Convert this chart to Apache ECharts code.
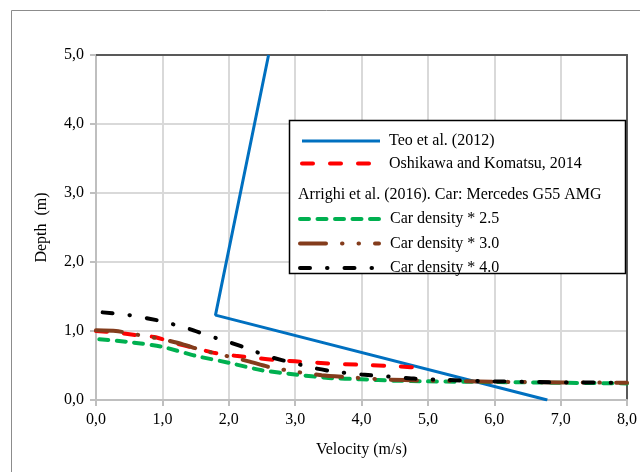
<!DOCTYPE html>
<html>
<head>
<meta charset="utf-8">
<script src="https://cdn.jsdelivr.net/npm/echarts@6/dist/echarts.min.js"></script>
<style>html,body{margin:0;padding:0;background:#fff;}#c{width:640px;height:472px;}</style>
</head>
<body>
<div id="c"></div>
<script>
// Data
var teoX = [2.6, 1.8, 6.8];
var teoY = [5.0, 1.23, 0.0];
var oshX = [0, 0.3, 0.6, 0.9, 1.2, 1.5, 1.8, 2.1, 2.4, 2.7, 3.0, 3.5, 4.0, 4.5, 5.0];
var oshY = [1.0, 0.98, 0.94, 0.91, 0.82, 0.75, 0.68, 0.64, 0.61, 0.58, 0.56, 0.53, 0.51, 0.49, 0.46];
var d25X = [0.05, 0.5, 1.0, 1.5, 2.0, 2.5, 3.0, 3.5, 4.0, 4.5, 5.0, 6.0, 7.0, 8.0];
var d25Y = [0.88, 0.84, 0.77, 0.64, 0.54, 0.43, 0.37, 0.32, 0.30, 0.28, 0.27, 0.26, 0.25, 0.24];
var d30X = [0, 0.3, 0.6, 1.0, 1.3, 1.6, 2.0, 2.3, 2.6, 3.0, 3.4, 3.8, 4.3, 5.0, 6.0, 7.0, 8.0];
var d30Y = [1.01, 1.0, 0.95, 0.88, 0.81, 0.72, 0.63, 0.56, 0.48, 0.41, 0.36, 0.33, 0.30, 0.28, 0.265, 0.255, 0.25];
var d40X = [0.1, 0.5, 1.0, 1.4, 1.8, 2.0, 2.3, 2.6, 3.0, 3.3, 3.6, 4.0, 4.4, 4.8, 5.3, 6.0, 7.0, 8.0];
var d40Y = [1.27, 1.23, 1.14, 1.03, 0.90, 0.84, 0.74, 0.63, 0.53, 0.46, 0.41, 0.37, 0.34, 0.31, 0.29, 0.27, 0.255, 0.25];
var seriesNames = ['Teo et al. (2012)', 'Oshikawa and Komatsu, 2014', 'Car density * 2.5', 'Car density * 3.0', 'Car density * 4.0'];
var legendHeader = 'Arrighi et al. (2016). Car: Mercedes G55 AMG';
var xTitle = 'Velocity (m/s)';
var yTitle = 'Depth  (m)';

function pairs(xs, ys) { return xs.map(function (x, i) { return [x, ys[i]]; }); }
function fmt(v) { return v.toFixed(1).replace('.', ','); }

var FONT = 'Liberation Serif, Times New Roman, serif';
var chart = echarts.init(document.getElementById('c'));
var txt = { fontFamily: FONT, fontSize: 16, color: '#000' };
var hidden = { show: false };

chart.setOption({
  animation: false,
  backgroundColor: '#fff',
  grid: { left: 96, top: 55, right: 13, bottom: 72 },
  xAxis: [{
    type: 'value', min: 0, max: 8, interval: 1,
    name: xTitle, nameLocation: 'middle', nameGap: 42,
    nameTextStyle: txt,
    axisLine: { onZero: false, lineStyle: { color: '#bfbfbf', width: 2 } },
    axisTick: { show: true, length: 6, lineStyle: { color: '#bfbfbf', width: 2 } },
    axisLabel: { formatter: fmt, margin: 12, fontFamily: FONT, fontSize: 16, color: '#000' },
    splitLine: { show: true, lineStyle: { color: '#d9d9d9', width: 2 } }
  }, {
    type: 'value', min: 0, max: 8, interval: 1, position: 'top',
    axisLine: { show: true, onZero: false, lineStyle: { color: '#595959', width: 2 } },
    axisTick: hidden, axisLabel: hidden, splitLine: hidden
  }],
  yAxis: [{
    type: 'value', min: 0, max: 5, interval: 1,
    name: yTitle, nameLocation: 'middle', nameGap: 46, nameRotate: 90,
    nameTextStyle: txt,
    axisLine: { onZero: false, lineStyle: { color: '#bfbfbf', width: 2 } },
    axisTick: { show: true, length: 6, lineStyle: { color: '#bfbfbf', width: 2 } },
    axisLabel: { formatter: fmt, margin: 12, fontFamily: FONT, fontSize: 16, color: '#000' },
    splitLine: { show: true, lineStyle: { color: '#d9d9d9', width: 2 } }
  }, {
    type: 'value', min: 0, max: 5, interval: 1, position: 'right',
    axisLine: { show: true, onZero: false, lineStyle: { color: '#595959', width: 2 } },
    axisTick: hidden, axisLabel: hidden, splitLine: hidden
  }],
  legend: [
    {
      data: [
        { name: seriesNames[0], lineStyle: { width: 3 } },
        { name: seriesNames[1] }
      ],
      orient: 'vertical', left: 300, top: 133, padding: 0,
      itemWidth: 78, itemHeight: 14, itemGap: 6.5,
      selectedMode: false, z: 6,
      itemStyle: { opacity: 0 },
      lineStyle: { width: 4 },
      textStyle: { fontFamily: FONT, fontSize: 16, color: '#000', padding: [0, 0, 0, 4] }
    },
    {
      data: [
        { name: seriesNames[2] },
        { name: seriesNames[3] },
        { name: seriesNames[4] }
      ],
      orient: 'vertical', left: 298, top: 211, padding: 0,
      itemWidth: 79, itemHeight: 14, itemGap: 8.5,
      selectedMode: false, z: 6,
      itemStyle: { opacity: 0 },
      lineStyle: { width: 4 },
      textStyle: { fontFamily: FONT, fontSize: 16, color: '#000', padding: [0, 0, 0, 6] }
    }
  ],
  graphic: [
    { type: 'rect', z: 1, silent: true, shape: { x: 11.5, y: 10.5, width: 700, height: 500 }, style: { fill: 'none', stroke: '#8c8c8c', lineWidth: 1 } },
    { type: 'rect', z: 5, silent: true, shape: { x: 289.5, y: 120.5, width: 336, height: 153 }, style: { fill: '#fff', stroke: '#000', lineWidth: 1.5 } },
    { type: 'text', z: 6, silent: true, x: 298, y: 195, style: { text: legendHeader, font: '16px ' + FONT, fill: '#000', verticalAlign: 'middle' } }
  ],
  series: [
    {
      name: seriesNames[0], type: 'line', symbol: 'none', data: pairs(teoX, teoY),
      lineStyle: { color: '#0070c0', width: 3 }, itemStyle: { color: '#0070c0' }, z: 2
    },
    {
      name: seriesNames[1], type: 'line', symbol: 'none', smooth: 0.2, data: pairs(oshX, oshY),
      lineStyle: { color: '#ff0000', width: 4, type: [11, 17], cap: 'round' }, itemStyle: { color: '#ff0000' }, z: 3
    },
    {
      name: seriesNames[2], type: 'line', symbol: 'none', smooth: 0.2, data: pairs(d25X, d25Y),
      lineStyle: { color: '#00b050', width: 4, type: [9, 8.5], cap: 'round' }, itemStyle: { color: '#00b050' }, z: 3
    },
    {
      name: seriesNames[3], type: 'line', symbol: 'none', smooth: 0.2, data: pairs(d30X, d30Y),
      lineStyle: { color: '#843c1c', width: 4, type: [26, 16, 0.5, 16, 0.5, 16], cap: 'round' }, itemStyle: { color: '#843c1c' }, z: 3
    },
    {
      name: seriesNames[4], type: 'line', symbol: 'none', smooth: 0.2, data: pairs(d40X, d40Y),
      lineStyle: { color: '#000000', width: 4, type: [10, 17, 0.5, 17], cap: 'round' }, itemStyle: { color: '#000' }, z: 3
    }
  ]
});
</script>
</body>
</html>
